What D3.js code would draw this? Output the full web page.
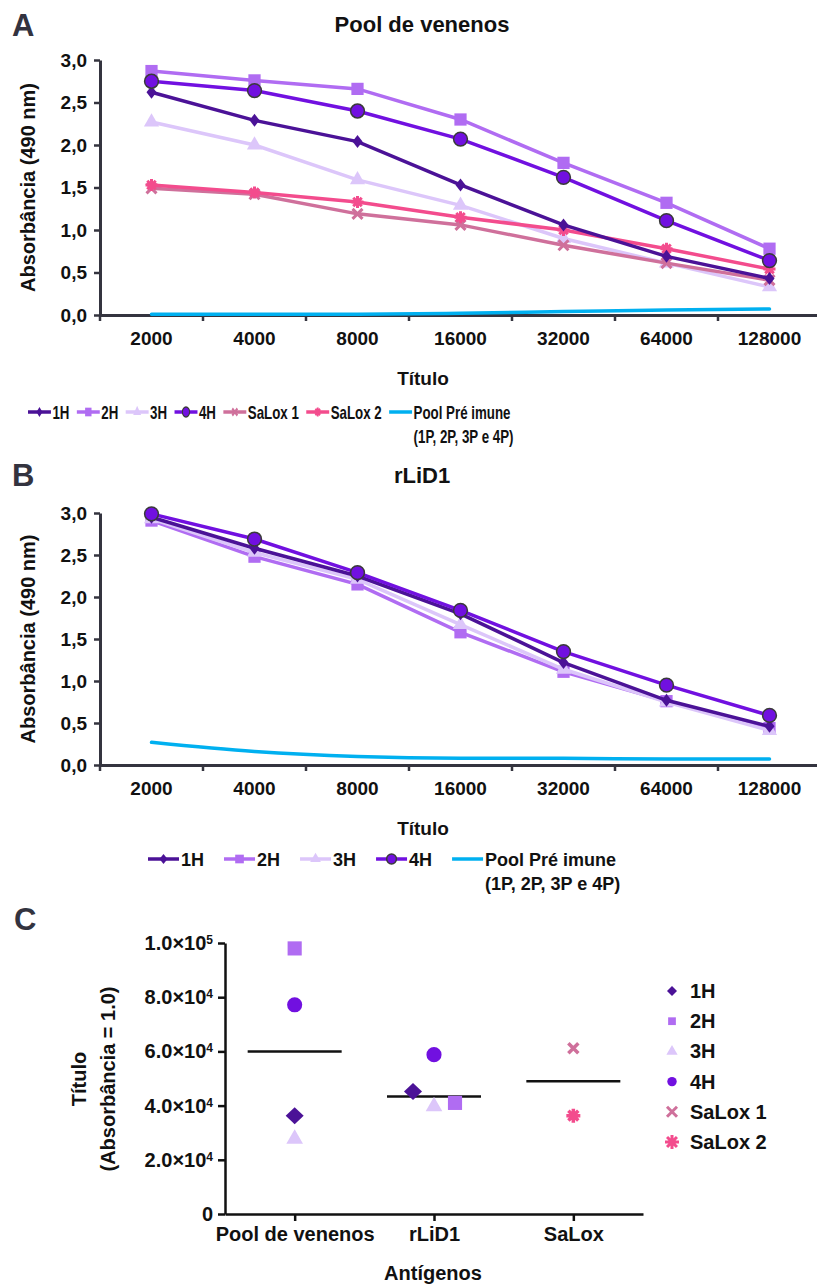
<!DOCTYPE html>
<html>
<head>
<meta charset="utf-8">
<script src="https://cdn.jsdelivr.net/npm/d3@7"></script>
<style>
    body { margin: 0; background: #fff; }
    svg text { font-family: "Liberation Sans", Arial, sans-serif; font-weight: bold; fill: #111; }
</style>
</head>
<body>
<svg id="fig" width="817" height="1285"></svg>
<script>
"use strict";

// ---- data ----
const titers = ["2000", "4000", "8000", "16000", "32000", "64000", "128000"];

// panel A - Pool de venenos (absorbance 490 nm)
const poolA_1H = [2.62, 2.29, 2.04, 1.53, 1.06, 0.69, 0.43];
const poolA_2H = [2.87, 2.76, 2.66, 2.30, 1.79, 1.32, 0.78];
const poolA_3H = [2.27, 2.00, 1.59, 1.29, 0.90, 0.61, 0.33];
const poolA_4H = [2.75, 2.64, 2.40, 2.07, 1.62, 1.11, 0.64];
const poolA_salox1 = [1.49, 1.42, 1.19, 1.06, 0.82, 0.61, 0.41];
const poolA_salox2 = [1.53, 1.44, 1.33, 1.15, 1.00, 0.78, 0.54];
const poolA_pre = [0.01, 0.01, 0.01, 0.02, 0.04, 0.06, 0.07];

// panel B - rLiD1
const rlidB_1H = [2.95, 2.58, 2.25, 1.80, 1.22, 0.77, 0.46];
const rlidB_2H = [2.91, 2.48, 2.15, 1.58, 1.11, 0.76, 0.44];
const rlidB_3H = [2.93, 2.53, 2.21, 1.67, 1.14, 0.75, 0.41];
const rlidB_4H = [2.99, 2.69, 2.29, 1.84, 1.35, 0.95, 0.59];
const rlidB_pre = [0.27, 0.16, 0.10, 0.08, 0.08, 0.07, 0.07];

// panel C - titer at absorbance = 1.0
const antigens = ["Pool de venenos", "rLiD1", "SaLox"];
const titerPoolNames = ["1H", "2H", "3H", "4H"];
const titerPool = [36300, 98000, 27700, 77200];
const titerRlidNames = ["1H", "2H", "3H", "4H"];
const titerRlid = [45200, 41000, 39700, 58800];
const titerSaloxNames = ["SaLox 1", "SaLox 2"];
const titerSalox = [61200, 36300];
const titerLines = [60000, 43400, 49000];

const absTicks = [0, 0.5, 1, 1.5, 2, 2.5, 3];
const titerTicks = [0, 20000, 40000, 60000, 80000, 100000];

// ---- styles ----
const colors = {
    "1H": "#4b1297", "2H": "#b06cf2", "3H": "#dcc6fa", "4H": "#7110e0",
    "SaLox 1": "#cf709b", "SaLox 2": "#f34c8d", "pre": "#00b0f0"
};
const markers = {
    "1H": "diamond", "2H": "square", "3H": "triangle", "4H": "circle",
    "SaLox 1": "x", "SaLox 2": "asterisk"
};
const axisColor = "#34343f";
const svg = d3.select("#fig");

function asteriskPath(r) {
    let p = "";
    for (let i = 0; i < 4; i++) {
        const a = i * Math.PI / 4;
        const dx = r * Math.cos(a), dy = r * Math.sin(a);
        p += `M${-dx},${-dy}L${dx},${dy}`;
    }
    return p;
}

function xPath(r) {
    return `M${-r},${-r}L${r},${r}M${-r},${r}L${r},${-r}`;
}

function rhombusPath(w, h) {
    return `M0,${-h}L${w},0L0,${h}L${-w},0Z`;
}

// sizes: { diamond: [w,h], square: area, triangle: area, circle: area, x: r, asterisk: r, sw: stroke }
function addMarker(g, name, x, y, sizes, outline) {
    const kind = markers[name];
    const color = colors[name];
    const stroked = kind === "x" || kind === "asterisk";
    let d;
    if (kind === "asterisk") d = asteriskPath(sizes.asterisk);
    else if (kind === "x") d = xPath(sizes.x);
    else if (kind === "diamond") d = rhombusPath(sizes.diamond[0], sizes.diamond[1]);
    else d = d3.symbol({
        square: d3.symbolSquare, triangle: d3.symbolTriangle, circle: d3.symbolCircle
    }[kind], sizes[kind])();
    g.append("path")
        .attr("d", d)
        .attr("transform", `translate(${x},${y})`)
        .attr("fill", stroked ? "none" : color)
        .attr("stroke", stroked ? color : (kind === "circle" && outline ? "#3a3a3a" : "none"))
        .attr("stroke-width", stroked ? sizes.sw : 1.5);
}

const lineMarkers = { diamond: [5, 6.5], square: 150, triangle: 100, circle: 150, x: 5, asterisk: 6, sw: 3 };
const lineLegendMarkers = { diamond: [4, 5], square: 75, triangle: 50, circle: 75, x: 3.5, asterisk: 4.5, sw: 2.5 };

function linePanel(cfg) {
    const x = d3.scaleBand().domain(titers).range([100, 821]);
    const y = d3.scaleLinear().domain([0, 3]).range([cfg.bottom, cfg.top]);
    const g = svg.append("g");

    // panel letter + title
    g.append("text").attr("x", 12).attr("y", cfg.letterY)
        .style("font-size", "31px").style("fill", "#33333f").text(cfg.letter);
    g.append("text").attr("x", 422).attr("y", cfg.titleY).attr("text-anchor", "middle")
        .style("font-size", "22px").text(cfg.title);

    // y axis
    const ya = g.append("g").attr("transform", "translate(100,0)")
        .call(d3.axisLeft(y).tickValues(absTicks).tickSize(6).tickSizeOuter(0).tickPadding(7)
            .tickFormat(d => d.toFixed(1).replace(".", ",")));
    ya.select(".domain").attr("stroke", axisColor).attr("stroke-width", 3);
    ya.selectAll(".tick line").attr("stroke", axisColor).attr("stroke-width", 2.5);
    ya.selectAll(".tick text").style("font-size", "19px").style("font-family", null);

    // x axis (labels at band centers, ticks at band edges)
    const xa = g.append("g").attr("transform", `translate(0,${cfg.bottom})`)
        .call(d3.axisBottom(x).tickSize(0).tickSizeOuter(0).tickPadding(17));
    xa.select(".domain").attr("stroke", axisColor).attr("stroke-width", 3);
    xa.selectAll(".tick text").style("font-size", "19px").style("font-family", null);
    xa.selectAll("line.edge").data(titers).join("line").attr("class", "edge")
        .attr("x1", d => x(d)).attr("x2", d => x(d)).attr("y1", 0).attr("y2", 6)
        .attr("stroke", axisColor).attr("stroke-width", 2.5);

    g.append("text").attr("x", 423).attr("y", cfg.bottom + 70).attr("text-anchor", "middle")
        .style("font-size", "19px").text("Título");
    g.append("text").attr("transform", `translate(35,${(cfg.top + cfg.bottom) / 2}) rotate(-90)`)
        .attr("text-anchor", "middle").style("font-size", "20px").text("Absorbância (490 nm)");

    const cx = d => x(d) + x.bandwidth() / 2;

    // pre-immune pool
    g.append("path").datum(cfg.pre)
        .attr("d", d3.line().x((v, i) => cx(titers[i])).y(v => y(v)).curve(d3.curveMonotoneX))
        .attr("fill", "none").attr("stroke", colors.pre).attr("stroke-width", 3.5)
        .attr("stroke-linecap", "round");

    cfg.series.forEach(s => {
        g.append("path").datum(s.values)
            .attr("d", d3.line().x((v, i) => cx(titers[i])).y(v => y(v)))
            .attr("fill", "none").attr("stroke", colors[s.name]).attr("stroke-width", 3.5);
        s.values.forEach((v, i) => addMarker(g, s.name, cx(titers[i]), y(v), lineMarkers, true));
    });
}

function lineLegend(cfg) {
    const g = svg.append("g").attr("transform", `translate(${cfg.x},${cfg.y}) scale(${cfg.sx},1)`);
    let pos = 0;
    cfg.names.forEach(name => {
        const color = name === "pre" ? colors.pre : colors[name];
        g.append("line").attr("x1", pos).attr("x2", pos + cfg.len).attr("y1", 0).attr("y2", 0)
            .attr("stroke", color).attr("stroke-width", 3.5);
        if (name !== "pre") addMarker(g, name, pos + cfg.len / 2, 0, lineLegendMarkers, true);
        pos += cfg.len + 2;
        const label = name === "pre" ? "Pool Pré imune" : name;
        const t = g.append("text").attr("x", pos).attr("y", 6.5).style("font-size", "18px").text(label);
        if (name === "pre") {
            g.append("text").attr("x", pos).attr("y", 31).style("font-size", "18px").text("(1P, 2P, 3P e 4P)");
        }
        pos += t.node().getComputedTextLength() + cfg.gap;
    });
}

// ---- panel A ----
linePanel({
    letter: "A", letterY: 36, title: "Pool de venenos", titleY: 32,
    top: 60, bottom: 315, pre: poolA_pre,
    series: [
        { name: "3H", values: poolA_3H },
        { name: "SaLox 1", values: poolA_salox1 },
        { name: "SaLox 2", values: poolA_salox2 },
        { name: "1H", values: poolA_1H },
        { name: "2H", values: poolA_2H },
        { name: "4H", values: poolA_4H }
    ]
});
lineLegend({ x: 28, y: 412, sx: 0.74, len: 31, gap: 10,
    names: ["1H", "2H", "3H", "4H", "SaLox 1", "SaLox 2", "pre"] });

// ---- panel B ----
linePanel({
    letter: "B", letterY: 486, title: "rLiD1", titleY: 483,
    top: 513, bottom: 765, pre: rlidB_pre,
    series: [
        { name: "2H", values: rlidB_2H },
        { name: "3H", values: rlidB_3H },
        { name: "1H", values: rlidB_1H },
        { name: "4H", values: rlidB_4H }
    ]
});
lineLegend({ x: 148, y: 859, sx: 1, len: 31, gap: 20,
    names: ["1H", "2H", "3H", "4H", "pre"] });

// ---- panel C ----
(function () {
    const g = svg.append("g");
    const x = d3.scalePoint().domain(antigens).range([225, 643]).padding(0.5);
    const y = d3.scaleLinear().domain([0, 100000]).range([1214, 943]);

    g.append("text").attr("x", 14).attr("y", 930)
        .style("font-size", "31px").style("fill", "#33333f").text("C");

    const ya = g.append("g").attr("transform", "translate(225,0)")
        .call(d3.axisLeft(y).tickValues(titerTicks).tickSize(7).tickSizeOuter(0).tickPadding(5));
    ya.select(".domain").attr("stroke", "#111").attr("stroke-width", 2.5);
    ya.selectAll(".tick line").attr("stroke", "#111").attr("stroke-width", 2.5);
    ya.selectAll(".tick text").style("font-size", "20px").style("font-family", null)
        .each(function (d) {
            const t = d3.select(this);
            if (d === 0) { t.text("0"); return; }
            const e = Math.floor(Math.log10(d));
            t.text((d / Math.pow(10, e)).toFixed(1) + "×10");
            t.append("tspan").attr("dy", "-0.5em").style("font-size", "12px").text(e);
        });

    const xa = g.append("g").attr("transform", "translate(0,1214)")
        .call(d3.axisBottom(x).tickSize(7).tickSizeOuter(0).tickPadding(6));
    xa.select(".domain").attr("stroke", "#111").attr("stroke-width", 2.5);
    xa.selectAll(".tick line").attr("stroke", "#111").attr("stroke-width", 2.5);
    xa.selectAll(".tick text").style("font-size", "20px").style("font-family", null);

    g.append("text").attr("x", 433).attr("y", 1280).attr("text-anchor", "middle")
        .style("font-size", "20px").text("Antígenos");
    g.append("text").attr("transform", "translate(86,1079) rotate(-90)").attr("text-anchor", "middle")
        .style("font-size", "20px").text("Título");
    g.append("text").attr("transform", "translate(115,1079) rotate(-90)").attr("text-anchor", "middle")
        .style("font-size", "20px").text("(Absorbância = 1.0)");

    // center lines
    g.selectAll("line.center").data(antigens).join("line").attr("class", "center")
        .attr("x1", d => x(d) - 47).attr("x2", d => x(d) + 47)
        .attr("y1", (d, i) => y(titerLines[i])).attr("y2", (d, i) => y(titerLines[i]))
        .attr("stroke", "#111").attr("stroke-width", 2.5);

    const cSizes = { diamond: [9, 8.5], square: 200, triangle: 120, circle: 180, x: 5, asterisk: 7, sw: 3.5 };
    const cLegend = { diamond: [5, 5], square: 60, triangle: 55, circle: 70, x: 5, asterisk: 7, sw: 3 };
    const rlidJitter = { "1H": -21, "2H": 21 };
    titerPoolNames.forEach((n, i) =>
        addMarker(g, n, x("Pool de venenos"), y(titerPool[i]), cSizes, false));
    titerRlidNames.forEach((n, i) =>
        addMarker(g, n, x("rLiD1") + (rlidJitter[n] || 0), y(titerRlid[i]), cSizes, false));
    titerSaloxNames.forEach((n, i) =>
        addMarker(g, n, x("SaLox"), y(titerSalox[i]), cSizes, false));

    // legend
    const legendNames = ["1H", "2H", "3H", "4H", "SaLox 1", "SaLox 2"];
    const lg = g.append("g");
    legendNames.forEach((n, i) => {
        const ly = 991 + i * 30.2;
        addMarker(lg, n, 672, ly, cLegend, false);
        lg.append("text").attr("x", 690).attr("y", ly + 7).style("font-size", "20px").text(n);
    });
})();
</script>
</body>
</html>
